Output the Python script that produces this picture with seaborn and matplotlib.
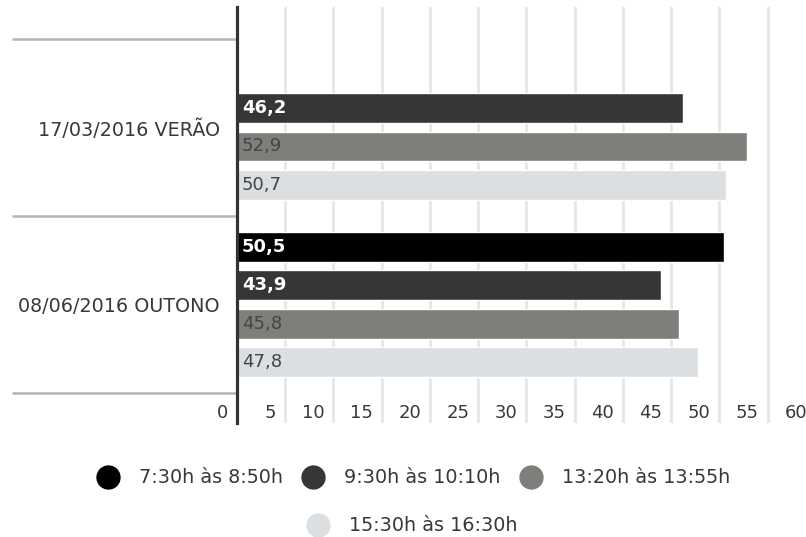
import numpy as np
import pandas as pd
import seaborn as sns
import matplotlib.pyplot as plt
from matplotlib.lines import Line2D
from matplotlib.transforms import ScaledTranslation

# data
groups = ["17/03/2016 VERÃO", "08/06/2016 OUTONO"]
periods = ["7:30h às 8:50h", "9:30h às 10:10h", "13:20h às 13:55h", "15:30h às 16:30h"]
verao = [np.nan, 46.2, 52.9, 50.7]
outono = [50.5, 43.9, 45.8, 47.8]
colors = ["#000000", "#373536", "#807e7a", "#dcdfe2"]
xticks = list(range(0, 61, 5))

df = pd.DataFrame({
    "data": [groups[0]] * 4 + [groups[1]] * 4,
    "periodo": periods * 2,
    "valor": verao + outono,
}).dropna()

sns.set_style("white")
plt.rcParams["font.family"] = ["DejaVu Sans"]
txt = "#383838"

fig = plt.figure(figsize=(8.06, 5.37), dpi=100)
ax = fig.add_axes([0.29404, 0.21229, 0.71836, 0.77467])

sns.barplot(data=df, y="data", x="valor", hue="periodo", order=groups,
            hue_order=periods, palette=colors, orient="h", width=0.865,
            gap=0.22, saturation=1, errorbar=None, legend=False, ax=ax)

ax.set_xlim(0, 60)
ax.set_ylim(1.669, -0.679)
ax.set_xlabel("")
ax.set_ylabel("")

for s in ["top", "right", "bottom"]:
    ax.spines[s].set_visible(False)
ax.spines["left"].set_color("#333333")
ax.spines["left"].set_linewidth(2.3)

ax.xaxis.grid(True, color="#e6e6e6", linewidth=2)
ax.yaxis.grid(False)
ax.set_axisbelow(True)

ax.tick_params(axis="y", length=0, pad=12.2, labelsize=13.8, labelcolor=txt)
ax.tick_params(axis="x", length=0, labelsize=13, labelcolor=txt)

# x tick labels sit inside the plot, right aligned left of each gridline
ax.set_xticks(xticks)
ax.set_xticklabels([str(t) for t in xticks])
shift = ScaledTranslation(-0.09, 0.05, fig.dpi_scale_trans)
for tick in ax.xaxis.get_major_ticks():
    tick.label1.set_transform(ax.get_xaxis_transform() + shift)
    tick.label1.set_horizontalalignment("right")
    tick.label1.set_verticalalignment("baseline")

# separators between the groups, left of the axis
ax.hlines([-0.5, 0.5, 1.5], -0.3886, 0, transform=ax.get_yaxis_transform(),
          colors="#b4b4b4", linewidth=1.8, clip_on=False)

# value labels at the start of each bar
for i, cont in enumerate(ax.containers):
    for bar in cont:
        w = bar.get_width()
        if not np.isfinite(w) or w <= 0:
            continue
        dark = i < 2
        ax.annotate(f"{w:.1f}".replace(".", ","),
                    xy=(0, bar.get_y() + bar.get_height() / 2),
                    xytext=(3.6, 0), textcoords="offset points",
                    ha="left", va="center", fontsize=13,
                    color="white" if dark else "#444444",
                    fontweight="bold" if dark else "normal")

handles = [Line2D([], [], marker="o", ls="", markersize=16.5, color=c) for c in colors]
leg_kw = dict(loc="center", frameon=False, fontsize=13.8, handlelength=1.0,
              handletextpad=1.1, columnspacing=1.1, labelcolor=txt)
fig.legend(handles[:3], periods[:3], ncol=3, bbox_to_anchor=(0.514, 0.110), **leg_kw)
fig.legend(handles[3:], periods[3:], ncol=1, bbox_to_anchor=(0.512, 0.021), **leg_kw)

fig.savefig("out.png", dpi=100)
